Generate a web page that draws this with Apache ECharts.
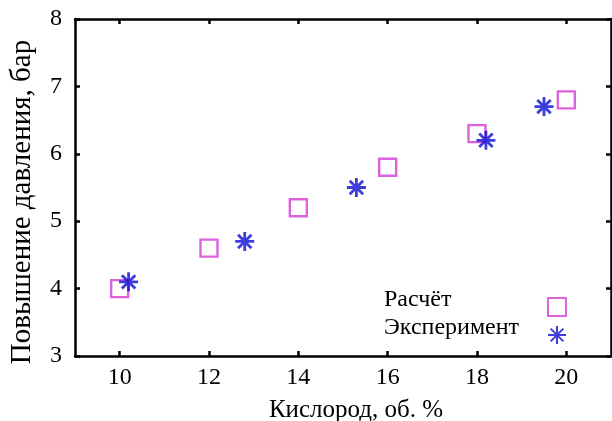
<!DOCTYPE html>
<html>
<head>
<meta charset="utf-8">
<script src="https://cdn.jsdelivr.net/npm/echarts@6/dist/echarts.min.js"></script>
<style>
html,body{margin:0;padding:0;background:#fff;}
#chart{width:612px;height:421px;}
</style>
</head>
<body>
<div id="chart"></div>
<script>
// Data
const calcX = [10, 12, 14, 16, 18, 20];
const calcY = [4.0, 4.6, 5.2, 5.8, 6.3, 6.8];
const expX = [10.2, 12.8, 15.3, 18.2, 19.5];
const expY = [4.1, 4.7, 5.5, 6.2, 6.7];
const xTicks = [10, 12, 14, 16, 18, 20];
const yTicks = [3, 4, 5, 6, 7, 8];
const seriesNames = ['Расчёт', 'Эксперимент'];
const xTitle = 'Кислород, об. %';
const yTitle = 'Повышение давления, бар';

const FONT = '"Liberation Serif", "DejaVu Serif", serif';
const MAGENTA = '#d63ad6';
const BLUE = '#0c0cd2';
const STAR = 'path://M10,0 L10,20 M0,10 L20,10 M2.93,2.93 L17.07,17.07 M2.93,17.07 L17.07,2.93';

const chart = echarts.init(document.getElementById('chart'), null, {renderer: 'canvas'});

const axisLine = {show: true, onZero: false, lineStyle: {color: '#000', width: 2.5}};
const tickStyle = {show: true, inside: true, length: 5, lineStyle: {color: '#000', width: 2.5}};

const option = {
  backgroundColor: '#fff',
  animation: false,
  grid: {left: 75, right: 1, top: 19, bottom: 65, containLabel: false, outerBoundsMode: 'none'},
  xAxis: [
    {
      type: 'value', min: 9, max: 21, position: 'bottom',
      axisLine: axisLine,
      axisTick: Object.assign({customValues: xTicks}, tickStyle),
      axisLabel: {customValues: xTicks, color: '#000', fontFamily: FONT, fontSize: 24, margin: 10},
      splitLine: {show: false},
      name: xTitle, nameLocation: 'middle', nameGap: 42,
      nameTextStyle: {color: '#000', fontFamily: FONT, fontSize: 25, padding: [0, 0, 0, 26]}
    },
    {
      type: 'value', min: 9, max: 21, position: 'top',
      axisLine: axisLine,
      axisTick: Object.assign({customValues: xTicks}, tickStyle),
      axisLabel: {show: false},
      splitLine: {show: false}
    }
  ],
  yAxis: [
    {
      type: 'value', min: 3, max: 8, interval: 1, position: 'left',
      axisLine: axisLine,
      axisTick: Object.assign({customValues: yTicks}, tickStyle),
      axisLabel: {customValues: yTicks, color: '#000', fontFamily: FONT, fontSize: 24, margin: 13},
      splitLine: {show: false}
    },
    {
      type: 'value', min: 3, max: 8, interval: 1, position: 'right',
      axisLine: axisLine,
      axisTick: Object.assign({customValues: yTicks}, tickStyle),
      axisLabel: {show: false},
      splitLine: {show: false}
    }
  ],
  legend: {
    orient: 'vertical', left: 379, top: 283, align: 'right',
    itemWidth: 18, itemHeight: 18, itemGap: -10,
    formatter: function (name) { return '{t|' + name + '}'; },
    textStyle: {
      color: '#000', fontFamily: FONT, fontSize: 24,
      rich: {t: {width: 159, align: 'left', lineHeight: 16, padding: [0, 0, 14, 0],
                 color: '#000', fontFamily: FONT, fontSize: 24}}
    },
    data: seriesNames
  },
  graphic: [{
    type: 'text', x: 22, y: 202, rotation: Math.PI / 2,
    style: {text: yTitle, fill: '#000', font: '29px ' + FONT, align: 'center', verticalAlign: 'middle'}
  }],
  series: [
    {
      name: seriesNames[0], type: 'scatter', symbol: 'rect', symbolSize: 17,
      itemStyle: {color: 'rgba(0,0,0,0)', borderColor: MAGENTA, borderWidth: 2.4},
      data: calcX.map((x, i) => [x, calcY[i]])
    },
    {
      name: seriesNames[1], type: 'scatter', symbol: STAR, symbolSize: 19,
      itemStyle: {color: 'rgba(0,0,0,0)', borderColor: BLUE, borderWidth: 2.8},
      data: expX.map((x, i) => [x, expY[i]])
    }
  ]
};
chart.setOption(option);
</script>
</body>
</html>
